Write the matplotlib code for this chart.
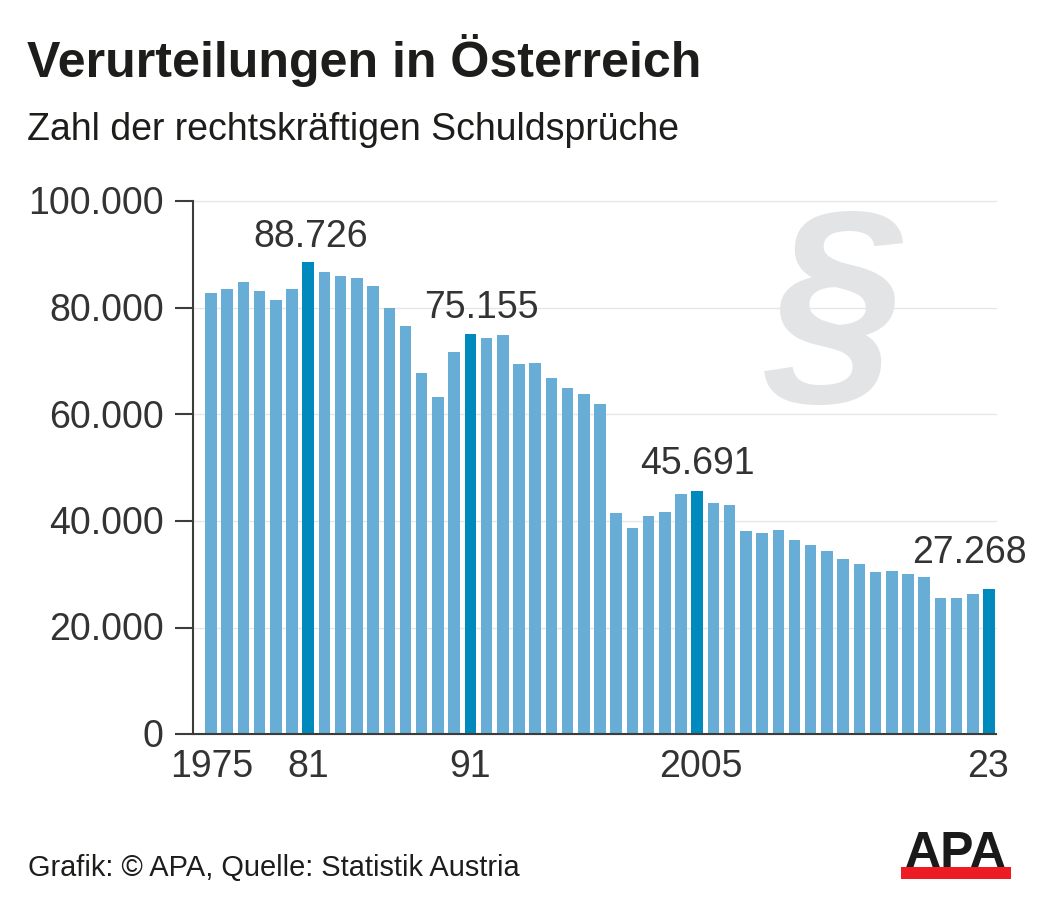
import matplotlib
matplotlib.use("Agg")
import matplotlib.pyplot as plt
from matplotlib.patches import Rectangle
from matplotlib.transforms import ScaledTranslation

plt.rcParams['font.family'] = ['Liberation Sans', 'DejaVu Sans']

years = list(range(1975, 2024))
values = [82750, 83570, 84950, 83190, 81500, 83570, 88726, 86820, 86010, 85630,
          84070, 80000, 76560, 67730, 63290, 71680, 75155, 74370, 74930, 69480,
          69730, 66920, 64980, 63850, 61970, 41560, 38690, 41000, 41690, 45070,
          45691, 43320, 43070, 38120, 37750, 38310, 36370, 35430, 34300, 32860,
          31990, 30360, 30610, 30050, 29540, 25540, 25540, 26350, 27268]
highlight_years = [1981, 1991, 2005, 2023]
highlight_labels = ['88.726', '75.155', '45.691', '27.268']
y_ticks = [0, 20000, 40000, 60000, 80000, 100000]
y_labels = ['0', '20.000', '40.000', '60.000', '80.000', '100.000']
x_ticks = [1975, 1981, 1991, 2005, 2023]
x_labels = ['1975', '81', '91', '2005', '23']

W, H = 1040, 900
TEXT = '#333333'
DARK = '#1d1d1b'
LIGHT = '#67add5'
STRONG = '#0089bd'

fig = plt.figure(figsize=(W / 100, H / 100), dpi=100, facecolor='white')
left, right, top, bottom = 193, 996, 201.5, 734
ax = fig.add_axes([left / W, 1 - bottom / H, (right - left) / W, (bottom - top) / H])

px_per_year = 16.21
ax.set_xlim(1975 - 18 / px_per_year, 2023 + 7 / px_per_year)
ax.set_ylim(0, 100000)

colors = [STRONG if y in highlight_years else LIGHT for y in years]
ax.bar(years, values, width=0.71, color=colors, zorder=3, linewidth=0)

ax.set_axisbelow(True)
ax.yaxis.grid(True, color='#e6e6e6', linewidth=1, clip_on=False)
ax.xaxis.grid(False)

for s in ['top', 'right']:
    ax.spines[s].set_visible(False)
for s in ['left', 'bottom']:
    ax.spines[s].set_color('#3c3c3b')
    ax.spines[s].set_linewidth(1.5)
ax.spines['bottom'].set_zorder(5)


def px_shift(dx, dy):
    return ScaledTranslation(dx / 100, dy / 100, fig.dpi_scale_trans)


ax.set_yticks(y_ticks, y_labels)
ax.tick_params(axis='y', length=13, width=1.5, color='#3c3c3b', labelsize=27,
               labelcolor=TEXT, pad=8)
for lab in ax.get_yticklabels():
    lab.set_transform(lab.get_transform() + px_shift(0, 1))

ax.set_xticks(x_ticks, x_labels)
ax.tick_params(axis='x', length=0, labelsize=27, labelcolor=TEXT, pad=11)
x_label_shift = [1, 0, 0, 4, -1]
for lab, dx in zip(ax.get_xticklabels(), x_label_shift):
    lab.set_transform(lab.get_transform() + px_shift(dx, 0))

label_offsets = [(2, 15), (11, 16), (0, 17), (-20, 26)]
for yr, lab, (dx, dy) in zip(highlight_years, highlight_labels, label_offsets):
    v = values[years.index(yr)]
    ax.annotate(lab, (yr, v), xytext=(dx * 0.72, dy * 0.72), textcoords='offset points',
                ha='center', va='baseline', fontsize=27, color=TEXT, zorder=6,
                annotation_clip=False)

ax.text(0.8, 0.785, '§', transform=ax.transAxes, fontsize=172, fontweight='bold',
        fontstyle='italic', color='#e3e4e6', ha='center', va='center', zorder=1)

fig.text(27 / W, 1 - 77 / H, 'Verurteilungen in Österreich', fontsize=36.1, fontweight='bold',
         color=DARK, ha='left', va='baseline')
fig.text(27 / W, 1 - 140 / H, 'Zahl der rechtskräftigen Schuldsprüche', fontsize=27,
         color=DARK, ha='left', va='baseline')
fig.text(28 / W, 1 - 876 / H, 'Grafik: © APA, Quelle: Statistik Austria', fontsize=20.85,
         color=DARK, ha='left', va='baseline')

fig.add_artist(Rectangle((901 / W, 1 - 879 / H), 110 / W, 12 / H, transform=fig.transFigure,
                         facecolor='#ed1c24', edgecolor='none'))
fig.text(956 / W, 1 - 867 / H, 'APA', fontsize=36, fontweight='bold', color='#1a1a1a',
         ha='center', va='baseline')

fig.savefig('out.png', dpi=100, facecolor='white')
